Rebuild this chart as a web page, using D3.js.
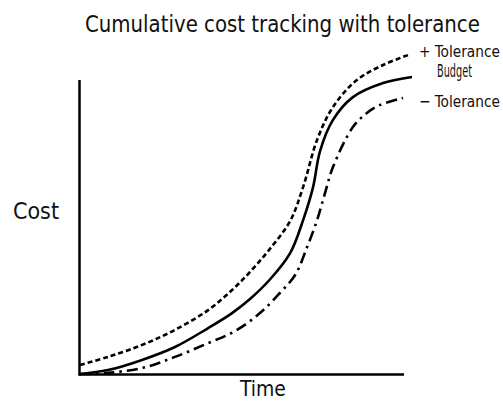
<!DOCTYPE html>
<html><head><meta charset="utf-8">
<script src="https://cdn.jsdelivr.net/npm/d3@7"></script>
<style>
html,body{margin:0;padding:0;background:#fff;}
text{font-family:"Liberation Sans Narrow","DejaVu Sans Condensed","Roboto Condensed","DejaVu Sans",sans-serif;fill:#111;}
</style></head>
<body><svg id="c" width="503" height="401"></svg>
<script>
const title = "Cumulative cost tracking with tolerance";
const xLabel = "Time";
const yLabel = "Cost";
const seriesNames = ["+ Tolerance", "Budget", "− Tolerance"];

const budgetT = [0, 8.4, 18.7, 28.6, 38.6, 45.8, 51.2, 57.2, 63.3, 67.2, 70.2, 72.3, 76.2, 82.2, 91.3, 100];
const budgetC = [0, 1.3, 4.7, 9, 15.3, 20.3, 25, 31.5, 40.3, 51.3, 62.3, 74.3, 84.7, 92.3, 97, 99];

const upperT = [0, 8.4, 18.7, 28.6, 38.6, 45.8, 51.2, 57.2, 63.3, 67.2, 71.4, 76.2, 83.4, 91.3, 98.8];
const upperC = [3, 5.7, 9.7, 14.7, 21.3, 28, 34, 41.7, 51, 62.3, 78, 89, 98, 103, 106.3];

const lowerT = [0, 8.4, 18.7, 28.6, 38.6, 46.7, 54.2, 60.2, 64.8, 68.4, 71.4, 73.8, 76.2, 82.2, 86.4, 90.4, 97.3];
const lowerC = [0, 0.4, 2, 5.7, 10.3, 14.3, 20.3, 27, 33, 42.3, 51.3, 60.3, 69, 82.3, 87, 89.7, 92];

const svg = d3.select("#c");
const x = d3.scaleLinear().domain([0, 100]).range([80, 412]);
const y = d3.scaleLinear().domain([0, 100]).range([374, 74]);

// axes
svg.append("line").attr("x1", x(0)-0.5).attr("x2", x(0)-0.5).attr("y1", y(0)+1.5).attr("y2", y(98))
  .attr("stroke", "#000").attr("stroke-width", 2.5);
svg.append("line").attr("x1", x(0)-1.5).attr("x2", x(97.6)).attr("y1", y(0)+0.5).attr("y2", y(0)+0.5)
  .attr("stroke", "#000").attr("stroke-width", 2.5);

const line = d3.line().x(d => x(d[0])).y(d => y(d[1])).curve(d3.curveCatmullRom.alpha(0.5));
const zip = (a, b) => a.map((v, i) => [v, b[i]]);

svg.append("path").attr("d", line(zip(upperT, upperC))).attr("fill", "none")
  .attr("stroke", "#000").attr("stroke-width", 2.6).attr("stroke-dasharray", "5,3");
svg.append("path").attr("d", line(zip(budgetT, budgetC))).attr("fill", "none")
  .attr("stroke", "#000").attr("stroke-width", 2.6);
svg.append("path").attr("d", line(zip(lowerT, lowerC))).attr("fill", "none")
  .attr("stroke", "#000").attr("stroke-width", 2.6).attr("stroke-dasharray", "11,5,2.5,5");

// texts: condensed horizontally to the reference widths
function txt(s, xx, yy, size, len) {
  const t = svg.append("text").attr("x", 0).attr("y", 0).attr("font-size", size).text(s);
  const w = t.node().getComputedTextLength();
  const sx = len / w;
  t.attr("transform", `translate(${xx},${yy}) scale(${sx},1)`);
}
txt(title, 85, 32, 23, 395);
txt(yLabel, 13, 219, 23, 46);
txt(xLabel, 240, 396, 21, 46);
txt(seriesNames[0], 419, 57, 16, 81);
txt(seriesNames[1], 437, 77, 17, 35);
txt(seriesNames[2], 419, 107, 16, 81);
</script></body></html>
